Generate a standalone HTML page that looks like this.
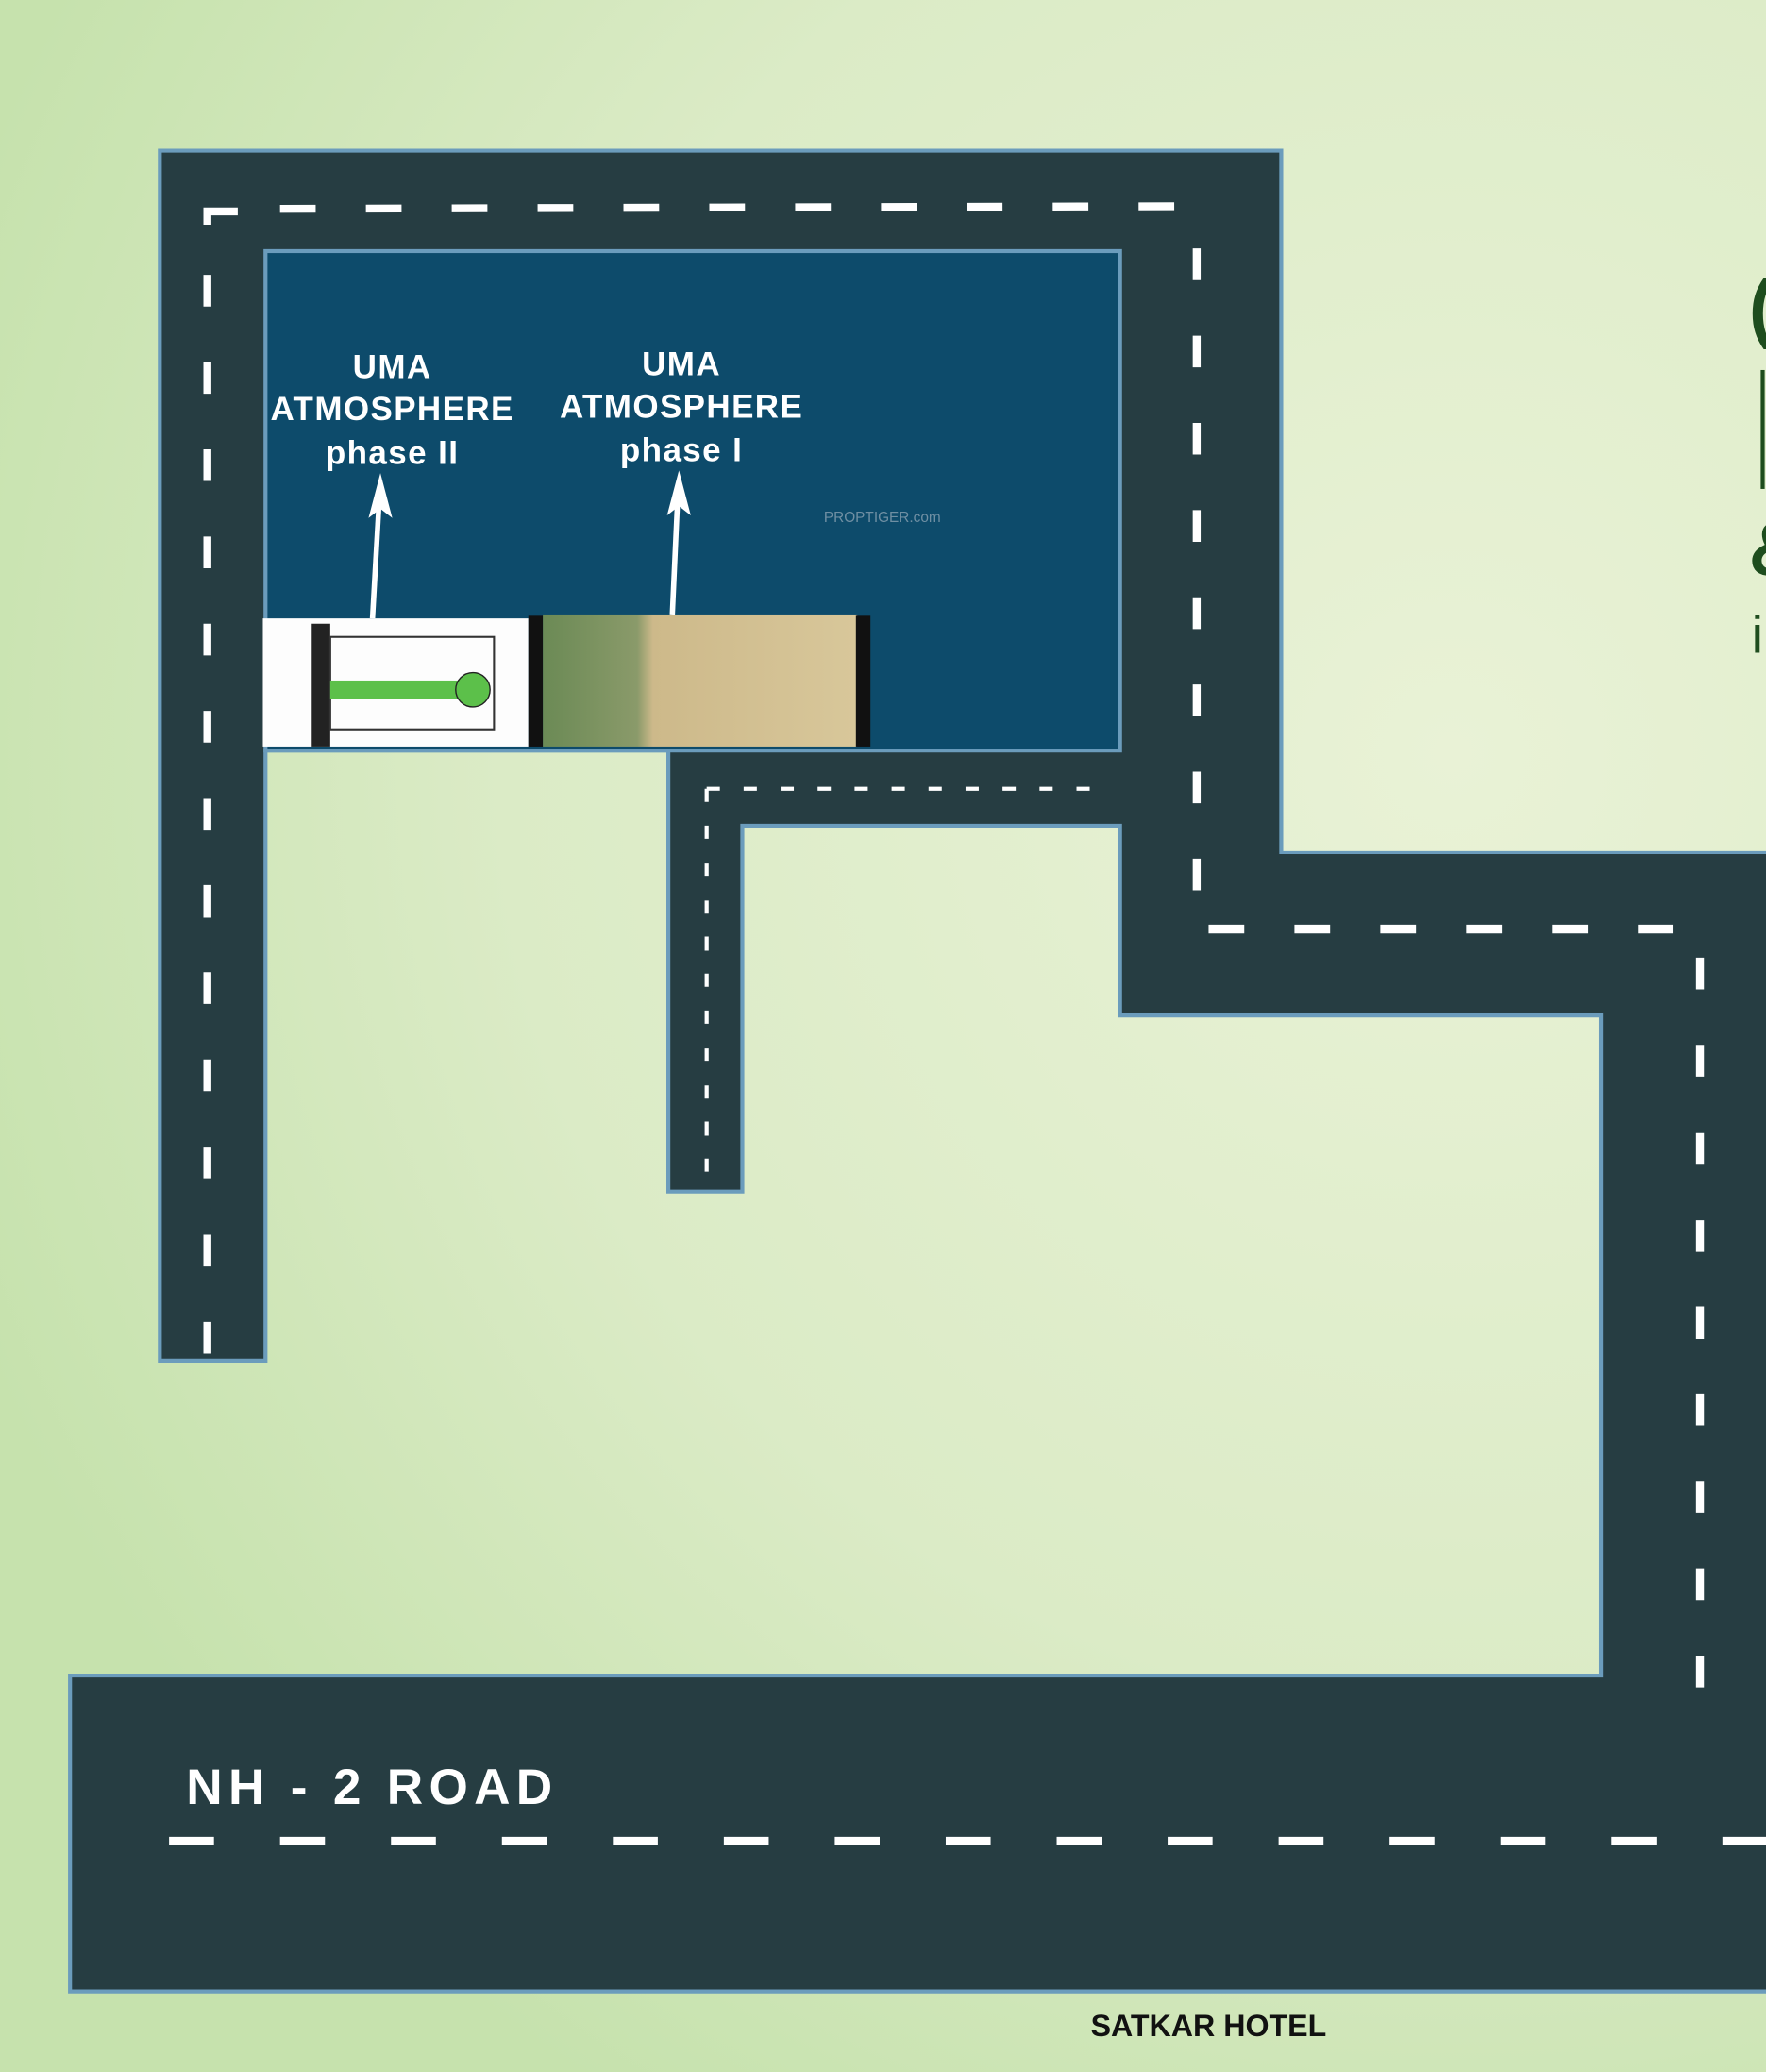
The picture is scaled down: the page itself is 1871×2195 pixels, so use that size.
<!DOCTYPE html>
<html><head><meta charset="utf-8"><style>
html,body{margin:0;padding:0;overflow:hidden;width:1871px;height:2195px}
svg{display:block}
text{font-family:"Liberation Sans",sans-serif}
</style></head><body>
<svg width="1871" height="2195" viewBox="0 0 1337 1568" preserveAspectRatio="none" xmlns="http://www.w3.org/2000/svg">
<defs>
<radialGradient id="bg" cx="1100" cy="570" r="1200" gradientUnits="userSpaceOnUse">
<stop offset="0" stop-color="#e9f2d6"/><stop offset="0.6" stop-color="#dbebc6"/><stop offset="1" stop-color="#c6e2ad"/>
</radialGradient>
<linearGradient id="ph" x1="0" y1="0" x2="1" y2="0">
<stop offset="0" stop-color="#6b8a55"/><stop offset="0.3" stop-color="#8a9a6a"/><stop offset="0.35" stop-color="#cdb98a"/><stop offset="1" stop-color="#d8c79a"/>
</linearGradient>
</defs>
<rect width="1337" height="1568" fill="url(#bg)"/>
<path d="M121,114 L970,114 L970,645 L1340,645 L1340,1507 L53,1507 L53,1268 L1212,1268 L1212,768 L848,768 L848,625 L562,625 L562,902 L506,902 L506,568 L201,568 L201,1030 L121,1030 Z" fill="#263d42" stroke="#6b9cbc" stroke-width="3"/>
<rect x="201" y="190" width="647" height="378" fill="#0d4b6b" stroke="#6b9cbc" stroke-width="3"/>
<g stroke="#fff" fill="none" stroke-width="6">
<path d="M157,208 L157,1025" stroke-dasharray="24,42"/>
<path d="M157,170 L157,160 L180,160"/>
<path d="M212,158 L900,156" stroke-dasharray="27,38"/>
<path d="M906,188 L906,675" stroke-dasharray="24,42"/>
<path d="M915,703 L1275,703" stroke-dasharray="27,38"/>
<path d="M1287,725 L1287,1280" stroke-dasharray="24,42"/>
<path d="M128,1393 L1337,1393" stroke-dasharray="34,50"/>
</g>
<g stroke="#fff" fill="none" stroke-width="3">
<path d="M535,597 L840,597" stroke-dasharray="10,18"/>
<path d="M535,597 L535,900" stroke-dasharray="10,18"/>
</g>
<rect x="199" y="468" width="201" height="97" fill="#fdfdfd"/>
<rect x="236" y="472" width="14" height="93" fill="#222"/>
<rect x="250" y="482" width="124" height="70" fill="none" stroke="#333" stroke-width="1.5"/>
<rect x="250" y="515" width="110" height="14" fill="#5cc04a"/>
<circle cx="358" cy="522" r="13" fill="#5cc04a" stroke="#222"/>
<rect x="400" y="466" width="11" height="99" fill="#111"/>
<rect x="411" y="465" width="238" height="100" fill="url(#ph)"/>
<rect x="648" y="466" width="11" height="99" fill="#111"/>
<g stroke="#fff" stroke-width="4" fill="#fff">
<line x1="282" y1="468" x2="287" y2="380"/>
<line x1="509" y1="465" x2="513" y2="378"/>
</g>
<path d="M288,358 L279,392 L288,385 L297,392 Z" fill="#fff"/>
<path d="M514,356 L505,390 L514,383 L523,390 Z" fill="#fff"/>
<g fill="#fff" font-weight="bold" font-size="25" text-anchor="middle" letter-spacing="1">
<text x="297" y="286">UMA</text><text x="297" y="318">ATMOSPHERE</text><text x="297" y="351">phase II</text>
<text x="516" y="284">UMA</text><text x="516" y="316">ATMOSPHERE</text><text x="516" y="349">phase I</text>
</g>
<text x="668" y="395" fill="#6f8fa3" font-size="11" text-anchor="middle">PROPTIGER.com</text>
<text x="141" y="1365" fill="#fff" font-weight="bold" font-size="38" letter-spacing="4.5">NH - 2 ROAD</text>
<text x="915" y="1541" fill="#111" font-weight="bold" font-size="23" text-anchor="middle">SATKAR HOTEL</text>
<g fill="#1e4d1e" font-size="58" font-weight="bold">
<text x="1324" y="252">(</text><text x="1324" y="435">&amp;</text>
</g>
<rect x="1333" y="280" width="3" height="90" fill="#1e4d1e"/>
<text x="1326" y="494" fill="#1e4d1e" font-size="40">i</text>
</svg>
</body></html>
